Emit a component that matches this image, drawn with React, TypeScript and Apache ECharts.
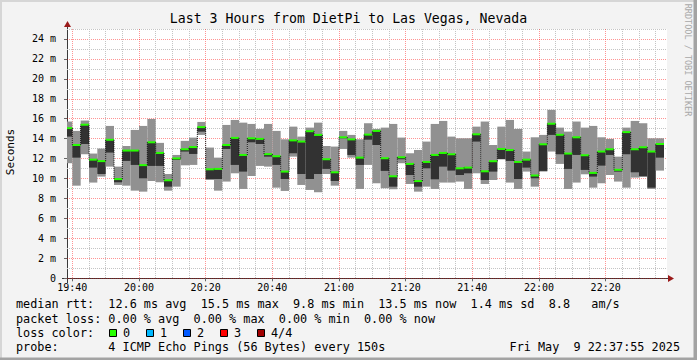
import React, { useEffect, useRef } from "react";
import * as echarts from "echarts";

const MONO = '"DejaVu Sans Mono", monospace';

const chartTitle = "Last 3 Hours from DietPi to Las Vegas, Nevada";
const stepMinutes = 2.5; // 150 s probe step
const firstStepEnd = 19 * 60 + 40; // 19:40, minutes after midnight
const axisStart = 1178.4; // 19:38:24
const axisEnd = 1358.4; // 22:38:24

// smoke of 4 pings per step (ms): highest, lowest, second-lowest, median
const pingMax = [
  15.72, 14.78, 15.82, 12.51, 13.01, 15.28, 11.2, 13.27, 14.88, 15.28, 15.98, 13.58,
  10.46, 12.37, 13.78, 14.11, 15.68, 13.11, 12.1, 15.38, 15.88, 15.61, 15.48, 14.98,
  15.48, 14.78, 13.94, 15.21, 14.21, 15.11, 15.61, 13.27, 13.21, 14.78, 14.38, 13.94,
  15.55, 14.98, 15.11, 15.48, 14.11, 12.54, 12.87, 13.71, 15.48, 15.78, 14.21, 14.04,
  14.04, 15.21, 15.72, 13.37, 15.21, 15.88, 14.98, 12.71, 14.14, 14.38, 16.89, 15.11,
  14.71, 15.72, 15.11, 15.28, 14.14, 13.98, 12.2, 15.11, 15.78, 15.55, 14.04, 14.04,
];
const pingMin = [
  11.54, 9.29, 12.44, 9.6, 10.2, 11.2, 9.36, 9.29, 8.79, 8.69, 9.76, 9.63,
  8.79, 9.19, 11.33, 11.37, 14.38, 9.86, 8.79, 9.7, 10.53, 8.96, 10.26, 11.27,
  11.2, 9.09, 8.76, 12.2, 9.36, 8.86, 8.63, 10.46, 9.29, 12.97, 12.1, 8.96,
  11.37, 9.53, 9.03, 8.93, 11.54, 9.46, 8.69, 9.19, 8.96, 9.6, 9.6, 9.7,
  8.96, 10.53, 9.46, 9.86, 12.04, 9.6, 8.96, 10.7, 9.19, 10.7, 12.71, 11.47,
  8.96, 9.6, 10.43, 9.09, 9.53, 10.36, 9.7, 9.09, 10.1, 10.53, 8.96, 10.8,
];
const pingLow = [
  14.21, 12.1, 13.47, 11.1, 10.46, 12.61, 9.63, 11.77, 11.37, 10.03, 11.27, 11.27,
  9.19, 11.87, 12.71, 12.47, 14.71, 9.96, 9.96, 12.97, 11.37, 10.7, 13.64, 13.47,
  12.2, 11.37, 9.96, 12.54, 10.46, 9.96, 10.46, 10.97, 9.76, 14.04, 12.37, 11.37,
  13.9, 13.37, 10.77, 9.19, 11.94, 10.36, 9.19, 11.03, 9.93, 11.2, 10.8, 10.36,
  10.53, 13.71, 9.86, 10.7, 11.94, 11.77, 9.96, 11.1, 10.03, 10.77, 14.38, 12.44,
  10.97, 12.37, 10.87, 10.2, 11.3, 12.37, 10.7, 12.44, 10.63, 10.2, 9.09, 12.1,
];
const medianRtt = [
  15.06, 13.37, 15.4, 11.9, 11.75, 13.89, 9.95, 12.81, 12.81, 11.35, 13.64, 12.57,
  9.83, 12.02, 12.94, 13.16, 15.16, 10.93, 10.97, 13.37, 14.08, 12.37, 14.04, 13.98,
  12.45, 12.24, 10.7, 13.83, 13.71, 14.75, 14.38, 11.94, 10.63, 14.14, 13.93, 12.1,
  14.41, 14.78, 12.04, 10.23, 12.14, 11.47, 9.75, 11.67, 12.37, 12.57, 12.44, 11.03,
  11.1, 14.44, 10.73, 11.74, 12.97, 12.86, 11.67, 11.9, 10.31, 13.44, 15.5, 14.39,
  12.51, 14.14, 12.34, 10.57, 12.71, 12.94, 10.88, 14.66, 12.94, 13.14, 12.71, 13.47,
];

const xMajorTicks = [1180, 1200, 1220, 1240, 1260, 1280, 1300, 1320, 1340];
const xMinorTicks = [
  1185, 1190, 1195, 1205, 1210, 1215, 1225, 1230, 1235, 1245, 1250, 1255, 1265, 1270,
  1275, 1285, 1290, 1295, 1305, 1310, 1315, 1325, 1330, 1335, 1345, 1350, 1355,
];
const yMajorTicks = [0, 2, 4, 6, 8, 10, 12, 14, 16, 18, 20, 22, 24];
const yMinorTicks = [1, 3, 5, 7, 9, 11, 13, 15, 17, 19, 21, 23, 25];

const legendRtt =
  "median rtt:  12.6 ms avg  15.5 ms max  9.8 ms min  13.5 ms now  1.4 ms sd  8.8   am/s";
const legendLoss = "packet loss: 0.00 % avg  0.00 % max  0.00 % min  0.00 % now";
const legendLossColor = "loss color:";
const legendProbe = "probe:       4 ICMP Echo Pings (56 Bytes) every 150s";
const legendDate = "Fri May  9 22:37:55 2025";
const lossLabels = ["0", "1", "2", "3", "4/4"];
const lossColors = ["#26ff00", "#00b8ff", "#0059ff", "#ff0000", "#a10000"];

const fmtTime = (v: number) => {
  const h = Math.floor(v / 60);
  const m = Math.round(v - h * 60);
  return `${h}:${String(m).padStart(2, "0")}`;
};

const stepStart = (i: number) => firstStepEnd - stepMinutes + stepMinutes * i;

const smokeData = pingMax.map((_, i) => [
  stepStart(i),
  stepStart(i) + stepMinutes,
  pingMin[i],
  pingMax[i],
  pingLow[i],
  medianRtt[i],
]);
const medianData = medianRtt.map((m, i) => [
  stepStart(i),
  stepStart(i) + stepMinutes,
  m,
  i > 0 ? medianRtt[i - 1] : m,
]);

const clampX = (params: any, api: any, t0: number, t1: number) => {
  const cs = params.coordSys;
  const xa = Math.max(api.coord([t0, 0])[0], cs.x);
  const xb = Math.min(api.coord([t1, 0])[0], cs.x + cs.width);
  return [xa, xb];
};

const AXIS_COLOR = "#3a3a3a";
const ARROW_COLOR = "#9a1a1a";

const buildOption = (): any => {
  const textEls: any[] = [
    {
      type: "text",
      x: 348.5,
      y: 18.5,
      style: { text: chartTitle, font: `13.2px ${MONO}`, fill: "#000", align: "center", verticalAlign: "middle" },
    },
    {
      type: "text",
      x: 10,
      y: 152,
      rotation: Math.PI / 2,
      style: { text: "Seconds", font: `11px ${MONO}`, fill: "#000", align: "center", verticalAlign: "middle" },
    },
    {
      type: "text",
      x: 688,
      y: 60,
      rotation: -Math.PI / 2,
      style: { text: "RRDTOOL / TOBI OETIKER", font: `8.5px ${MONO}`, fill: "#a8a8a8", align: "center", verticalAlign: "middle" },
    },
    { type: "text", x: 16, y: 304, style: { text: legendRtt, font: `11.8px ${MONO}`, fill: "#000", verticalAlign: "middle" } },
    { type: "text", x: 16, y: 318.5, style: { text: legendLoss, font: `11.8px ${MONO}`, fill: "#000", verticalAlign: "middle" } },
    { type: "text", x: 16, y: 332.5, style: { text: legendLossColor, font: `11.8px ${MONO}`, fill: "#000", verticalAlign: "middle" } },
    { type: "text", x: 16, y: 346.5, style: { text: legendProbe, font: `11.8px ${MONO}`, fill: "#000", verticalAlign: "middle" } },
    { type: "text", x: 680, y: 346.5, style: { text: legendDate, font: `11.8px ${MONO}`, fill: "#000", align: "right", verticalAlign: "middle" } },
  ];
  lossLabels.forEach((lab, j) => {
    textEls.push({
      type: "rect",
      shape: { x: 109.5 + 37 * j, y: 329.5, width: 7, height: 7 },
      style: { fill: lossColors[j], stroke: "#000", lineWidth: 1 },
    });
    textEls.push({
      type: "text",
      x: 123 + 37 * j,
      y: 332.5,
      style: { text: lab, font: `11.8px ${MONO}`, fill: "#000", verticalAlign: "middle" },
    });
  });

  const frameEls: any[] = [
    { type: "rect", shape: { x: 0, y: 0, width: 697, height: 2 }, style: { fill: "#d6d6d6" } },
    { type: "rect", shape: { x: 0, y: 0, width: 2, height: 360 }, style: { fill: "#d6d6d6" } },
    { type: "rect", shape: { x: 693.5, y: 0, width: 3.5, height: 360 }, style: { fill: "#a3a3a3" } },
    { type: "rect", shape: { x: 0, y: 357.5, width: 697, height: 2.5 }, style: { fill: "#a3a3a3" } },
    // axis extensions and arrows
    { type: "line", shape: { x1: 62, y1: 278.5, x2: 669, y2: 278.5 }, style: { stroke: AXIS_COLOR, lineWidth: 1 } },
    { type: "line", shape: { x1: 67.5, y1: 283, x2: 67.5, y2: 24 }, style: { stroke: AXIS_COLOR, lineWidth: 1 } },
    { type: "polygon", shape: { points: [[668, 275], [674, 278.5], [668, 282]] }, style: { fill: ARROW_COLOR } },
    { type: "polygon", shape: { points: [[64, 27], [67.5, 21], [71, 27]] }, style: { fill: ARROW_COLOR } },
  ];

  return {
    animation: false,
    backgroundColor: "#f3f3f3",
    grid: {
      left: 67,
      right: 30,
      top: 29,
      bottom: 81.7,
      show: true,
      backgroundColor: "#ffffff",
      borderWidth: 0,
    },
    xAxis: [
      {
        type: "value",
        min: axisStart,
        max: axisEnd,
        position: "bottom",
        axisLine: { show: false },
        axisTick: { show: true, customValues: xMajorTicks, length: 3, lineStyle: { color: "#666" } },
        axisLabel: {
          customValues: xMajorTicks,
          formatter: (v: number) => fmtTime(v),
          fontFamily: MONO,
          fontSize: 10,
          color: "#000",
          margin: 4,
        },
        splitLine: { show: true, lineStyle: { color: "rgba(255,0,0,0.42)", type: [1, 1], width: 1 } },
      },
      {
        type: "value",
        min: axisStart,
        max: axisEnd,
        position: "top",
        axisLine: { show: false },
        axisTick: { show: false, customValues: xMinorTicks },
        axisLabel: { show: false, customValues: xMinorTicks },
        splitLine: { show: true, lineStyle: { color: "#c4c4c4", type: [1, 1], width: 1 } },
      },
    ],
    yAxis: [
      {
        type: "value",
        min: 0,
        max: 25,
        position: "left",
        axisLine: { show: false },
        axisTick: { show: true, customValues: yMajorTicks, length: 3, lineStyle: { color: "#666" } },
        axisLabel: {
          customValues: yMajorTicks,
          formatter: (v: number) => (v === 0 ? "0" : `${v} m`),
          fontFamily: MONO,
          fontSize: 10,
          color: "#000",
          margin: 11,
        },
        splitLine: { show: true, lineStyle: { color: "rgba(255,0,0,0.42)", type: [1, 1], width: 1 } },
      },
      {
        type: "value",
        min: 0,
        max: 25,
        position: "right",
        axisLine: { show: false },
        axisTick: { show: false, customValues: yMinorTicks },
        axisLabel: { show: false, customValues: yMinorTicks },
        splitLine: { show: true, lineStyle: { color: "#c4c4c4", type: [1, 1], width: 1 } },
      },
    ],
    series: [
      {
        type: "custom",
        name: "smoke",
        xAxisIndex: 0,
        yAxisIndex: 0,
        encode: { x: [0, 1], y: [2, 3, 4, 5] },
        data: smokeData,
        renderItem: (params: any, api: any) => {
          const t0 = api.value(0);
          const t1 = api.value(1);
          const [xa, xb] = clampX(params, api, t0, t1);
          const yLo = api.coord([t0, api.value(2)])[1];
          const yHi = api.coord([t0, api.value(3)])[1];
          const yLow2 = api.coord([t0, api.value(4)])[1];
          const yMed = api.coord([t0, api.value(5)])[1];
          return {
            type: "group",
            children: [
              { type: "rect", shape: { x: xa, y: yHi, width: xb - xa, height: yLo - yHi }, style: { fill: "#919191" } },
              { type: "rect", shape: { x: xa, y: yMed, width: xb - xa, height: yLow2 - yMed }, style: { fill: "#323232" } },
            ],
          };
        },
      },
      {
        type: "custom",
        name: "median rtt",
        xAxisIndex: 0,
        yAxisIndex: 0,
        encode: { x: [0, 1], y: [2, 3] },
        data: medianData,
        z: 3,
        renderItem: (params: any, api: any) => {
          const t0 = api.value(0);
          const t1 = api.value(1);
          const [xa, xb] = clampX(params, api, t0, t1);
          const yMed = api.coord([t0, api.value(2)])[1];
          const yPrev = api.coord([t0, api.value(3)])[1];
          const children: any[] = [
            { type: "rect", shape: { x: xa, y: yMed - 1, width: xb - xa, height: 2 }, style: { fill: lossColors[0] } },
          ];
          if (params.dataIndex > 0) {
            children.push({
              type: "line",
              shape: { x1: xa, y1: yPrev, x2: xa, y2: yMed },
              style: { stroke: "#111", lineWidth: 1, lineDash: [1, 1] },
            });
          }
          return { type: "group", children };
        },
      },
    ],
    graphic: { elements: [...frameEls, ...textEls] },
  };
};

export default function App() {
  const ref = useRef<HTMLDivElement>(null);
  useEffect(() => {
    if (!ref.current) return;
    const chart = echarts.init(ref.current, null, { renderer: "svg" });
    chart.setOption(buildOption());
    return () => chart.dispose();
  }, []);
  return (
    <div
      ref={ref}
      style={{ position: "fixed", left: 0, top: 0, width: 697, height: 360 }}
    />
  );
}
